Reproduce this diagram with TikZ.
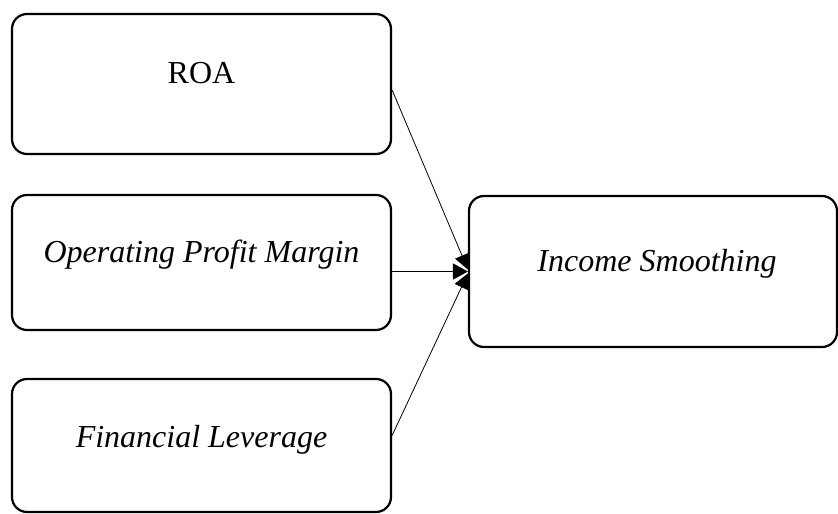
\documentclass[tikz,border=0pt]{standalone}
\usepackage{fontspec}
\setmainfont{Liberation Serif}
\usetikzlibrary{arrows.meta,calc}
\begin{document}
\begin{tikzpicture}[x=1pt,y=-1pt,
  boxstyle/.style={draw,line width=2.2pt,rounded corners=15pt,inner sep=0pt},
  lbl/.style={anchor=base,inner sep=0pt,font=\fontsize{32}{38}\selectfont},
  thinarrow/.style={line width=0.8pt,-{Triangle[length=15pt,width=15pt]}},
  mainarrow/.style={line width=1.6pt,-{Triangle[length=15pt,width=16pt]}}]
\useasboundingbox (0,0) rectangle (838,514);
\begin{scope}
\clip (0,0) rectangle (838,514);
\draw[boxstyle] (12,14) rectangle (391,154);
\node[boxstyle,draw=none,minimum width=379pt,minimum height=140pt] (roa) at (201.5,84) {};
\draw[boxstyle] (12,195) rectangle (391,330);
\node[boxstyle,draw=none,minimum width=379pt,minimum height=135pt] (opm) at (201.5,262.5) {};
\draw[boxstyle] (12,379) rectangle (391,512);
\node[boxstyle,draw=none,minimum width=379pt,minimum height=133pt] (fl) at (201.5,445.5) {};
\draw[boxstyle] (469,196) rectangle (837,347);
\node[boxstyle,draw=none,minimum width=368pt,minimum height=151pt] (is) at (653,271.5) {};
\end{scope}
\node[lbl] (troa) at (201.5,83) {ROA};
\node[lbl] (topm) at (201.5,262) {\itshape Operating Profit Margin};
\node[lbl] (tfl) at (201.5,447) {\itshape Financial Leverage};
\node[lbl] (tis) at (657,271) {\itshape Income Smoothing};
\coordinate (roaout) at ($(roa.east)+(0,6)$);
\coordinate (flout) at ($(fl.east)+(0,-10)$);
\draw[thinarrow] (roaout) -- ($(is.west)+(0,-2)$);
\draw[mainarrow] (opm.east |- is.west) -- (is.west);
\draw[thinarrow] (flout) -- ($(is.west)+(0,2)$);
\end{tikzpicture}
\end{document}
